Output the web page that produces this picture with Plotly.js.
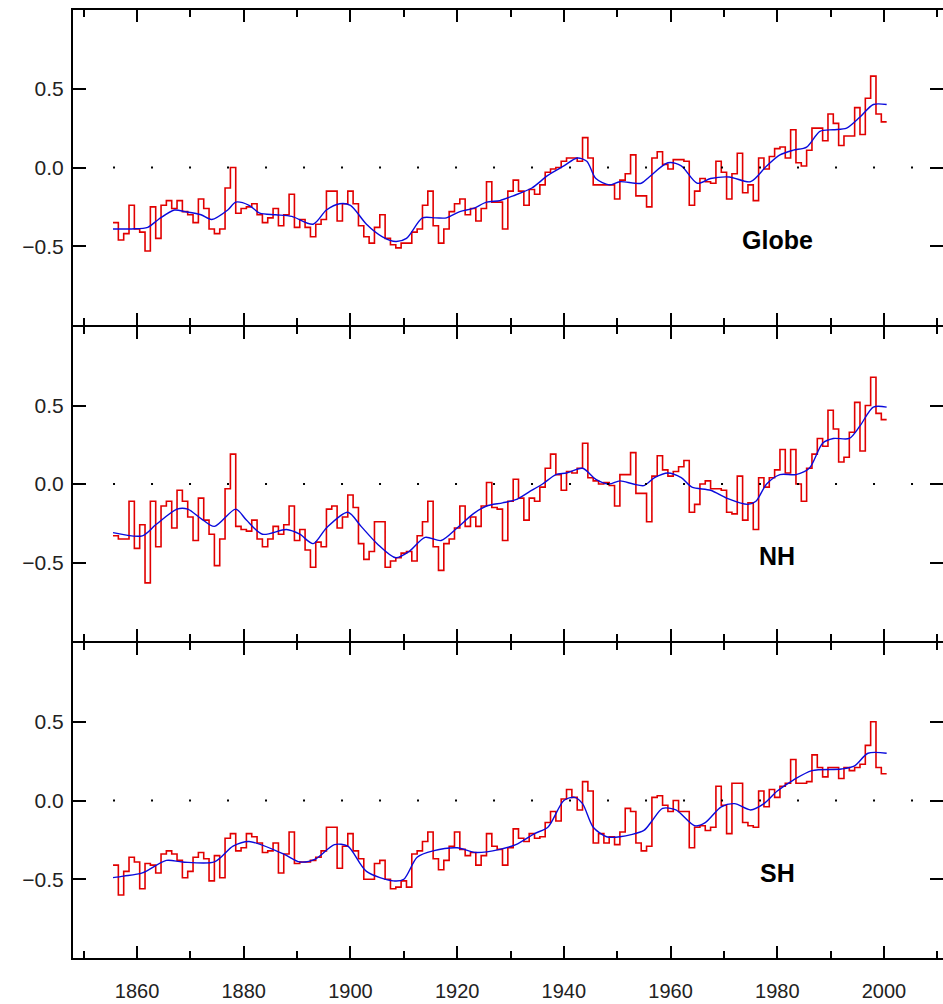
<!DOCTYPE html>
<html>
<head>
<meta charset="utf-8">
<script src="https://cdn.plot.ly/plotly-3.0.1.min.js"></script>
<style>
html,body{margin:0;padding:0;background:#fff;}
#chart{width:943px;height:1004px;}
</style>
</head>
<body>
<div id="chart"></div>
<script>
// ---- Data ----
const firstYear = 1856;
const panelLabels = ["Globe", "NH", "SH"];
const xTickYears = [1860, 1880, 1900, 1920, 1940, 1960, 1980, 2000];

const globeAnnual = [
 -0.35,-0.46,-0.42,-0.24,-0.39,-0.41,-0.53,-0.25,-0.45,-0.24, // 1856-1865
 -0.21,-0.26,-0.21,-0.28,-0.30,-0.35,-0.20,-0.26,-0.39,-0.42, // 1866-1875
 -0.39,-0.13, 0.00,-0.29,-0.26,-0.25,-0.23,-0.30,-0.35,-0.32, // 1876-1885
 -0.26,-0.37,-0.30,-0.17,-0.38,-0.33,-0.38,-0.44,-0.36,-0.33, // 1886-1895
 -0.15,-0.15,-0.34,-0.23,-0.15,-0.23,-0.37,-0.44,-0.48,-0.38, // 1896-1905
 -0.30,-0.45,-0.49,-0.51,-0.48,-0.48,-0.41,-0.39,-0.24,-0.15, // 1906-1915
 -0.37,-0.48,-0.39,-0.28,-0.23,-0.20,-0.30,-0.26,-0.34,-0.26, // 1916-1925
 -0.09,-0.22,-0.22,-0.39,-0.15,-0.08,-0.15,-0.24,-0.14,-0.17, // 1926-1935
 -0.11,-0.03,-0.01, 0.00, 0.04, 0.06, 0.06, 0.04, 0.19, 0.06, // 1936-1945
 -0.11,-0.11,-0.11,-0.11,-0.20,-0.08,-0.04, 0.08,-0.18,-0.18, // 1946-1955
 -0.25, 0.06, 0.10, 0.02,-0.01, 0.05, 0.05, 0.04,-0.24,-0.15, // 1956-1965
 -0.07,-0.09,-0.10, 0.04,-0.03,-0.20,-0.04, 0.09,-0.16,-0.11, // 1966-1975
 -0.21, 0.06,-0.01, 0.07, 0.12, 0.13, 0.06, 0.24, 0.03, 0.01, // 1976-1985
  0.11, 0.25, 0.25, 0.17, 0.34, 0.28, 0.14, 0.20, 0.20, 0.38, // 1986-1995
  0.21, 0.44, 0.58, 0.34, 0.29                                // 1996-2000
];
const nhAnnual = [
 -0.33,-0.35,-0.35,-0.11,-0.41,-0.26,-0.63,-0.11,-0.40,-0.14,
 -0.11,-0.28,-0.04,-0.11,-0.21,-0.36,-0.09,-0.23,-0.32,-0.52,
 -0.35,-0.03, 0.19,-0.27,-0.29,-0.30,-0.23,-0.35,-0.40,-0.35,
 -0.27,-0.32,-0.26,-0.14,-0.36,-0.29,-0.42,-0.53,-0.37,-0.40,
 -0.16,-0.14,-0.28,-0.21,-0.07,-0.15,-0.38,-0.48,-0.43,-0.24,
 -0.24,-0.53,-0.49,-0.47,-0.44,-0.43,-0.49,-0.33,-0.24,-0.11,
 -0.40,-0.55,-0.38,-0.35,-0.28,-0.14,-0.27,-0.21,-0.27,-0.14,
  0.01,-0.15,-0.16,-0.36,-0.11, 0.03,-0.09,-0.23,-0.09,-0.11,
 -0.02, 0.10, 0.19, 0.06,-0.04, 0.08, 0.07, 0.10, 0.26, 0.04,
  0.02, 0.00, 0.01,-0.01,-0.14, 0.06, 0.06, 0.20,-0.06,-0.06,
 -0.24, 0.05, 0.18, 0.09, 0.05, 0.08, 0.11, 0.15,-0.18,-0.13,
  0.00, 0.02,-0.03,-0.03,-0.04,-0.18,-0.19, 0.05,-0.23,-0.12,
 -0.29, 0.04,-0.02, 0.04, 0.09, 0.22, 0.07, 0.22, 0.00,-0.11,
  0.10, 0.19, 0.29, 0.24, 0.47, 0.35, 0.14, 0.17, 0.33, 0.52,
  0.21, 0.50, 0.68, 0.45, 0.41
];
const shAnnual = [
 -0.41,-0.60,-0.45,-0.36,-0.39,-0.56,-0.40,-0.41,-0.46,-0.34,
 -0.32,-0.34,-0.38,-0.49,-0.45,-0.36,-0.33,-0.37,-0.51,-0.35,
 -0.49,-0.24,-0.21,-0.32,-0.30,-0.21,-0.23,-0.27,-0.33,-0.32,
 -0.27,-0.46,-0.34,-0.20,-0.40,-0.39,-0.39,-0.38,-0.36,-0.32,
 -0.17,-0.17,-0.43,-0.29,-0.21,-0.32,-0.37,-0.50,-0.50,-0.40,
 -0.38,-0.50,-0.56,-0.55,-0.51,-0.55,-0.34,-0.32,-0.26,-0.20,
 -0.37,-0.44,-0.38,-0.29,-0.20,-0.31,-0.35,-0.33,-0.41,-0.35,
 -0.21,-0.29,-0.31,-0.41,-0.30,-0.18,-0.24,-0.26,-0.21,-0.24,
 -0.23,-0.14,-0.07,-0.13, 0.01, 0.07, 0.02,-0.06, 0.12, 0.06,
 -0.27,-0.21,-0.27,-0.23,-0.28,-0.20,-0.05,-0.07,-0.27,-0.32,
 -0.29, 0.02, 0.03,-0.03,-0.07, 0.00,-0.07,-0.07,-0.30,-0.17,
 -0.16,-0.19,-0.17, 0.09,-0.03,-0.21, 0.11, 0.11,-0.14,-0.16,
 -0.17, 0.06,-0.04, 0.07, 0.02, 0.09, 0.11, 0.26, 0.11, 0.11,
  0.12, 0.29, 0.21, 0.15, 0.21, 0.21, 0.14, 0.21, 0.19, 0.21,
  0.23, 0.35, 0.50, 0.21, 0.17
];

// smoothed curves (read at selected years)
const globeSmoothYears = [1855.5,1859,1862,1864,1867,1869,1872,1874,1877,1878.5,1881,1883,1886,1889,1893,1895.5,1898,1900,1903,1906,1908.5,1910.5,1913.5,1916,1918,1920.5,1923,1925.5,1928,1930.5,1934,1937,1940,1942.5,1944.3,1946,1948.5,1950.5,1954.5,1956,1959.5,1962,1965,1967.5,1971,1975,1978,1980.5,1983,1985.5,1988,1990.5,1993,1995.5,1998,2000.5];
const globeSmooth = [-0.39,-0.39,-0.38,-0.33,-0.27,-0.28,-0.30,-0.33,-0.27,-0.22,-0.24,-0.29,-0.30,-0.31,-0.36,-0.27,-0.23,-0.24,-0.36,-0.44,-0.47,-0.45,-0.32,-0.32,-0.32,-0.28,-0.26,-0.22,-0.21,-0.18,-0.13,-0.05,0.01,0.06,0.04,-0.07,-0.11,-0.09,-0.10,-0.06,0.03,0.01,-0.10,-0.07,-0.06,-0.09,0.01,0.08,0.11,0.13,0.23,0.24,0.25,0.32,0.40,0.40];

const nhSmoothYears = [1855.5,1861,1863.5,1867.5,1869.5,1872,1874.5,1878.5,1880.5,1883.5,1888,1890.5,1893,1895.5,1899.5,1902,1905,1908.5,1911,1914,1917,1920,1923,1925.5,1928.5,1931,1933.5,1936,1938.5,1940.5,1943.5,1946,1948.5,1950.5,1953,1955,1957,1959.5,1962,1964,1967.5,1970.5,1974.5,1976,1978,1980.5,1983.5,1986,1988.5,1990.5,1993.5,1995.5,1998,2000.5];
const nhSmooth = [-0.31,-0.33,-0.26,-0.16,-0.16,-0.22,-0.27,-0.16,-0.23,-0.32,-0.29,-0.32,-0.38,-0.28,-0.18,-0.27,-0.38,-0.47,-0.43,-0.34,-0.36,-0.28,-0.19,-0.14,-0.12,-0.10,-0.05,0.00,0.06,0.07,0.10,0.03,0.00,0.02,0.00,-0.01,0.04,0.07,0.04,-0.02,-0.04,-0.09,-0.13,-0.11,0.00,0.06,0.06,0.10,0.26,0.29,0.29,0.37,0.49,0.49];

const shSmoothYears = [1855.5,1857.5,1861,1865.5,1868.5,1874.5,1878,1881,1887.5,1890.5,1893.5,1897,1899.5,1903,1908,1910,1912.5,1915.5,1920,1923.5,1928,1931,1934.5,1937,1940,1942,1943.5,1945.5,1948,1950.5,1955,1956.5,1958.5,1961,1964.5,1966.5,1969.5,1972,1975,1977.5,1980,1983,1986.5,1992,1994.5,1997,2000.5];
const shSmooth = [-0.49,-0.48,-0.46,-0.38,-0.39,-0.39,-0.29,-0.26,-0.34,-0.39,-0.37,-0.28,-0.29,-0.45,-0.51,-0.50,-0.36,-0.32,-0.30,-0.33,-0.31,-0.28,-0.21,-0.17,0.00,0.02,-0.02,-0.17,-0.23,-0.23,-0.19,-0.13,-0.05,-0.06,-0.16,-0.14,-0.04,-0.02,-0.06,-0.02,0.06,0.13,0.19,0.20,0.22,0.30,0.30];

// ---- Build ----
function stepXY(vals){
  const xs = vals.map((v,i)=> firstYear + i - 0.5);
  xs.push(firstYear + vals.length - 0.5);
  const ys = vals.slice(); ys.push(vals[vals.length-1]);
  return {xs, ys};
}
const RED = 'rgb(225,0,0)';
const BLUE = 'rgb(10,10,220)';
const panels = [
  {ann: globeAnnual, sy: globeSmoothYears, sv: globeSmooth, xa:'x3', ya:'y3', label: panelLabels[0]},
  {ann: nhAnnual,    sy: nhSmoothYears,    sv: nhSmooth,    xa:'x2', ya:'y2', label: panelLabels[1]},
  {ann: shAnnual,    sy: shSmoothYears,    sv: shSmooth,    xa:'x',  ya:'y',  label: panelLabels[2]}
];
const traces = [];
panels.forEach(p=>{
  const s = stepXY(p.ann);
  traces.push({x:s.xs, y:s.ys, xaxis:p.xa, yaxis:p.ya, type:'scatter', mode:'lines',
    line:{shape:'hv', color:RED, width:1.6}, hoverinfo:'skip', showlegend:false});
  traces.push({x:p.sy, y:p.sv, xaxis:p.xa, yaxis:p.ya, type:'scatter', mode:'lines',
    line:{shape:'spline', smoothing:0.8, color:BLUE, width:1.4}, hoverinfo:'skip', showlegend:false});
});

const FONT = 'Liberation Sans, Arial, sans-serif';
function xAxis(anchor, showLabels){
  return {
    anchor: anchor, range:[1848, 2011.06], showgrid:false, zeroline:false,
    showline:true, linecolor:'#000', linewidth:2, mirror:'ticks',
    ticks:'inside', ticklen:12, tickwidth:2, tickcolor:'#000',
    tickmode:'array', tickvals:xTickYears, ticktext:xTickYears.map(String),
    showticklabels: showLabels, ticklabelstandoff: 14,
    tickfont:{family:FONT, size:20, color:'#222'},
    minor:{dtick:10, tick0:1850, ticks:'inside', ticklen:7, tickwidth:2, tickcolor:'#000', showgrid:false}
  };
}
function yAxis(domain, anchor){
  return {
    domain: domain, anchor: anchor, range:[-1, 1], showgrid:false, zeroline:false,
    showline:true, linecolor:'#000', linewidth:2, mirror:'ticks',
    ticks:'inside', ticklen:13, tickwidth:2, tickcolor:'#000',
    tickvals:[-0.5, 0, 0.5], tickformat:'.1f', ticklabelstandoff: 3,
    tickfont:{family:FONT, size:21, color:'#222'}
  };
}
const shapes = [];
const annotations = [];
panels.forEach(p=>{
  shapes.push({type:'line', xref:p.xa, yref:p.ya, x0:1855.5, x1:2006, y0:0, y1:0,
    line:{color:'#000', width:2, dash:'2px,36px'}});
  annotations.push({xref:p.xa, yref:p.ya, x:1980, y:-0.46, text:'<b>'+p.label+'</b>', showarrow:false,
    font:{family:FONT, size:25, color:'#000'}});
});

const g = 2/948; // gap so the shared panel borders coincide
const layout = {
  width:943, height:1004,
  margin:{l:73, r:0, t:10, b:46, pad:0},
  paper_bgcolor:'#fff', plot_bgcolor:'#fff',
  showlegend:false,
  xaxis: xAxis('y', true),
  xaxis2: xAxis('y2', false),
  xaxis3: xAxis('y3', false),
  yaxis: yAxis([0, 1/3 - g/2], 'x'),
  yaxis2: yAxis([1/3 + g/2, 2/3 - g/2], 'x2'),
  yaxis3: yAxis([2/3 + g/2, 1], 'x3'),
  shapes: shapes,
  annotations: annotations
};
Plotly.newPlot('chart', traces, layout, {staticPlot:true, displayModeBar:false});
</script>
</body>
</html>
